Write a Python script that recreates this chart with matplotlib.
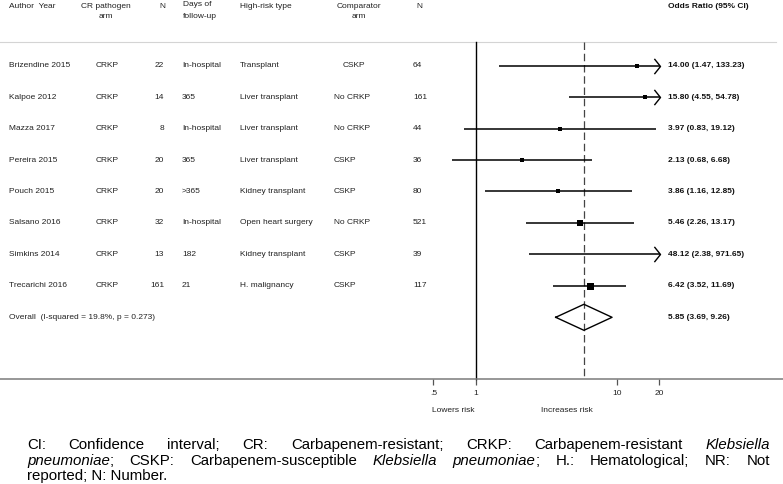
import numpy as np
import matplotlib
matplotlib.use("Agg")
import matplotlib.pyplot as plt
from matplotlib.path import Path

plt.rcParams['font.family'] = ['Liberation Sans', 'DejaVu Sans']

# Data
authors = ["Brizendine 2015", "Kalpoe 2012", "Mazza 2017", "Pereira 2015",
           "Pouch 2015", "Salsano 2016", "Simkins 2014", "Trecarichi 2016"]
cr_arm = ["CRKP"] * 8
n_cr = ["22", "14", "8", "20", "20", "32", "13", "161"]
followup = ["In-hospital", "365", "In-hospital", "365", ">365", "In-hospital", "182", "21"]
risk_type = ["Transplant", "Liver transplant", "Liver transplant", "Liver transplant",
             "Kidney transplant", "Open heart surgery", "Kidney transplant", "H. malignancy"]
comparator = ["CSKP", "No CRKP", "No CRKP", "CSKP", "CSKP", "No CRKP", "CSKP", "CSKP"]
n_comp = ["64", "161", "44", "36", "80", "521", "39", "117"]
odds = [14.00, 15.80, 3.97, 2.13, 3.86, 5.46, 48.12, 6.42]
lower = [1.47, 4.55, 0.83, 0.68, 1.16, 2.26, 2.38, 3.52]
upper = [133.23, 54.78, 19.12, 6.68, 12.85, 13.17, 971.65, 11.69]
weights = [6.5, 9.0, 9.0, 14.0, 14.0, 20.2, 1.2, 27.6]
pooled, pooled_lo, pooled_hi = 5.85, 3.69, 9.26
overall_label = "Overall  (I-squared = 19.8%, p = 0.273)"
xticks = [0.5, 1, 10, 20]
xtick_labels = [".5", "1", "10", "20"]
or_max = 20.3   # display limit of the CI axis, longer CIs get an arrow

W, H = 783, 484
fig = plt.figure(figsize=(W / 100, H / 100), dpi=100)
ax = fig.add_axes([0, 0, 1, 1])
ax.set_xscale('log')
ax.set_xlim(10 ** -3.374, 10 ** 2.179)
# row i sits at 65.7 + 31.45*i pixels from the top
ax.set_ylim((H - 65.7) / 31.45, -65.7 / 31.45)
ax.patch.set_alpha(0)

fs = 6.0
txtc = '#222222'

def px(x):
    return x / W

def row_y(ypx):
    return (ypx - 65.7) / 31.45

tr = ax.get_yaxis_transform()

# header
hdr = [("Author  Year", 9, 6, 'left'), ("CR pathogen", 106, 6, 'center'), ("arm", 106, 17, 'center'),
       ("N", 159, 6, 'left'), ("Days of", 183, 5, 'left'), ("follow-up", 183, 16, 'left'),
       ("High-risk type", 240, 6, 'left'), ("Comparator", 359, 6, 'center'), ("arm", 359, 17, 'center'),
       ("N", 416, 6, 'left')]
for s, x, y, ha in hdr:
    ax.text(px(x), row_y(y), s, transform=tr, fontsize=fs, ha=ha, va='center', color=txtc)
ax.text(px(668), row_y(6), "Odds Ratio (95% CI)", transform=tr, fontsize=fs, ha='left',
        va='center', fontweight='bold', color='#111111')

hline_y = row_y(42)
ax.axhline(hline_y, xmin=0, xmax=px(776), color='#d4d4d4', lw=0.8)

rows = np.arange(len(authors))
for i in rows:
    ax.text(px(9), i, authors[i], transform=tr, fontsize=fs, va='center', color=txtc)
    ax.text(px(96), i, cr_arm[i], transform=tr, fontsize=fs, va='center', color=txtc)
    ax.text(px(164), i, n_cr[i], transform=tr, fontsize=fs, va='center', ha='right', color=txtc)
    ax.text(px(182), i, followup[i], transform=tr, fontsize=fs, va='center', color=txtc)
    ax.text(px(240), i, risk_type[i], transform=tr, fontsize=fs, va='center', color=txtc)
    ax.text(px(343 if i == 0 else 334), i, comparator[i], transform=tr, fontsize=fs, va='center', color=txtc)
    ax.text(px(413), i, n_comp[i], transform=tr, fontsize=fs, va='center', color=txtc)
    ax.text(px(668), i, "%.2f (%.2f, %.2f)" % (odds[i], lower[i], upper[i]), transform=tr,
            fontsize=fs, va='center', fontweight='bold', color='#111111')

    hi = min(upper[i], or_max)
    ax.plot([lower[i], hi], [i, i], color='black', lw=1.1, solid_capstyle='butt', zorder=3)
    if upper[i] > or_max:
        chevron = Path([(-0.8, 1), (0, 0), (-0.8, -1)], [Path.MOVETO, Path.LINETO, Path.LINETO])
        ax.plot([or_max], [i], marker=chevron, markersize=11, mfc='none', mec='black', mew=1.0, zorder=4)
    if odds[i] < or_max:
        side = 7 * np.sqrt(weights[i] / max(weights)) * 0.72
        ax.plot([odds[i]], [i], marker='s', markersize=side, color='black', mew=0, zorder=5)

# overall
yo = len(authors)
ax.text(px(9), yo, overall_label, transform=tr, fontsize=fs, va='center', color=txtc)
ax.text(px(668), yo, "%.2f (%.2f, %.2f)" % (pooled, pooled_lo, pooled_hi), transform=tr,
        fontsize=fs, va='center', fontweight='bold', color='#111111')
dh = 13 / 31.45
ax.plot([pooled_lo, pooled, pooled_hi, pooled, pooled_lo], [yo, yo - dh, yo, yo + dh, yo],
        color='black', lw=1.0, zorder=4)

axis_y = row_y(379.5)
ax.plot([1, 1], [hline_y, axis_y], color='black', lw=1.0, zorder=2)
ax.plot([pooled, pooled], [hline_y, axis_y], color='#444444', lw=0.9, dashes=(6, 3), zorder=2)

# x axis
for s in ['top', 'left', 'right']:
    ax.spines[s].set_visible(False)
ax.spines['bottom'].set_position(('data', axis_y))
ax.spines['bottom'].set_color('#7a7a7a')
ax.spines['bottom'].set_linewidth(1.1)
ax.set_xticks(xticks)
ax.set_xticklabels(xtick_labels)
ax.xaxis.set_minor_locator(matplotlib.ticker.NullLocator())
ax.tick_params(axis='x', direction='out', length=4.3, width=0.9, color='#555555',
               labelsize=fs, labelcolor=txtc, pad=3)
ax.set_yticks([])
ax.text(px(453), row_y(411), "Lowers risk", transform=tr, fontsize=fs, ha='center',
        va='center', color=txtc)
ax.text(px(567), row_y(411), "Increases risk", transform=tr, fontsize=fs, ha='center',
        va='center', color=txtc)

# caption, justified like the source
cap_fs = 10.8
line1 = [[("CI:", 0)], [("Confidence", 0)], [("interval;", 0)], [("CR:", 0)],
         [("Carbapenem-resistant;", 0)], [("CRKP:", 0)], [("Carbapenem-resistant", 0)],
         [("Klebsiella", 1)]]
line2 = [[("pneumoniae", 1), (";", 0)], [("CSKP:", 0)], [("Carbapenem-susceptible", 0)],
         [("Klebsiella", 1)], [("pneumoniae", 1), (";", 0)], [("H.:", 0)],
         [("Hematological;", 0)], [("NR:", 0)], [("Not", 0)]]
line3 = [[("reported; N: Number.", 0)]]

fig.canvas.draw()
rend = fig.canvas.get_renderer()

def caption_line(words, ypx, justify, x0=27, x1=770):
    arts = []
    for word in words:
        segs = []
        for s, it in word:
            segs.append(fig.text(0, 1 - ypx / H, s, fontsize=cap_fs, style='italic' if it else 'normal',
                                 ha='left', va='center', color='black'))
        arts.append(segs)
    widths = [[t.get_window_extent(rend).width for t in segs] for segs in arts]
    total = sum(sum(w) for w in widths)
    gap = (x1 - x0 - total) / (len(words) - 1) if justify else 0
    x = x0
    for segs, ws in zip(arts, widths):
        for t, w in zip(segs, ws):
            t.set_x(x / W)
            x += w
        x += gap

caption_line(line1, 445, True)
caption_line(line2, 461, True)
caption_line(line3, 476, False)

fig.savefig("out.png", dpi=100)
